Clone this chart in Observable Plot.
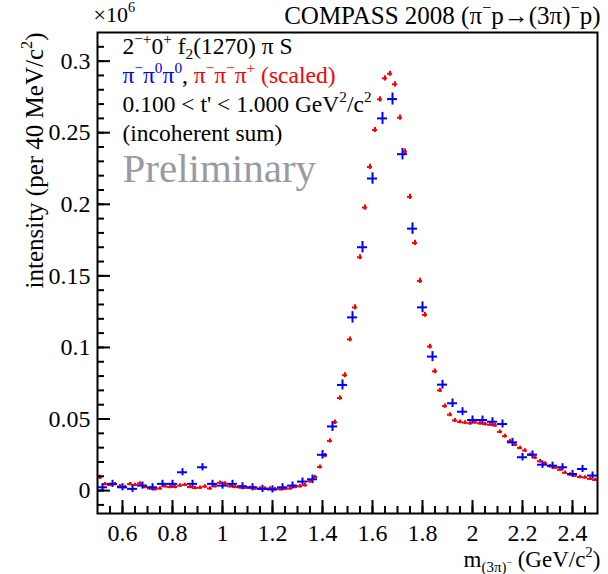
<!DOCTYPE html>
<html>
<head>
<meta charset="utf-8">
<script src="https://cdn.jsdelivr.net/npm/d3@7"></script>
<script src="https://cdn.jsdelivr.net/npm/@observablehq/plot@0.6"></script>
<style>
  html, body { margin: 0; padding: 0; background: #fff; }
  #chart { width: 608px; height: 574px; }
  #chart text { white-space: pre; }
</style>
</head>
<body>
<div id="chart"></div>
<script>
// π−π0π0 channel, 40 MeV bins (intensity in units of 10^6)
const blueMass = [0.52, 0.56, 0.60, 0.64, 0.68, 0.72, 0.76, 0.80, 0.84, 0.88,
  0.92, 0.96, 1.00, 1.04, 1.08, 1.12, 1.16, 1.20, 1.24, 1.28,
  1.32, 1.36, 1.40, 1.44, 1.48, 1.52, 1.56, 1.60, 1.64, 1.68,
  1.72, 1.76, 1.80, 1.84, 1.88, 1.92, 1.96, 2.00, 2.04, 2.08,
  2.12, 2.16, 2.20, 2.24, 2.28, 2.32, 2.36, 2.40, 2.44, 2.48];
const blueIntensity = [0.0023, 0.0047, 0.0023, 0.0012, 0.0035, 0.0023, 0.0047, 0.0047, 0.0128, 0.0047,
  0.0163, 0.0047, 0.0035, 0.0047, 0.0030, 0.0023, 0.0012, 0.0008, 0.0023, 0.0035,
  0.0063, 0.0079, 0.0250, 0.0448, 0.0738, 0.1210, 0.1700, 0.2180, 0.2600, 0.2735,
  0.2350, 0.1830, 0.1280, 0.0936, 0.0740, 0.0610, 0.0551, 0.0493, 0.0493, 0.0481,
  0.0465, 0.0337, 0.0233, 0.0251, 0.0181, 0.0174, 0.0163, 0.0116, 0.0151, 0.0105];
const blueError = [0.0025, 0.0025, 0.0025, 0.0025, 0.0025, 0.0025, 0.0025, 0.0025, 0.0025, 0.0025,
  0.0025, 0.0025, 0.0025, 0.0025, 0.0025, 0.0025, 0.0025, 0.0025, 0.0025, 0.0025,
  0.0025, 0.0030, 0.0030, 0.0035, 0.0035, 0.0040, 0.0040, 0.0040, 0.0042, 0.0042,
  0.0040, 0.0040, 0.0038, 0.0035, 0.0030, 0.0030, 0.0028, 0.0028, 0.0028, 0.0028,
  0.0028, 0.0028, 0.0026, 0.0026, 0.0026, 0.0025, 0.0025, 0.0025, 0.0025, 0.0025];

// π−π−π+ channel (scaled), 20 MeV bins
const redMass = [0.51, 0.53, 0.55, 0.57, 0.59, 0.61, 0.63, 0.65, 0.67, 0.69,
  0.71, 0.73, 0.75, 0.77, 0.79, 0.81, 0.83, 0.85, 0.87, 0.89,
  0.91, 0.93, 0.95, 0.97, 0.99, 1.01, 1.03, 1.05, 1.07, 1.09,
  1.11, 1.13, 1.15, 1.17, 1.19, 1.21, 1.23, 1.25, 1.27, 1.29,
  1.31, 1.33, 1.35, 1.37, 1.39, 1.41, 1.43, 1.45, 1.47, 1.49,
  1.51, 1.53, 1.55, 1.57, 1.59, 1.61, 1.63, 1.65, 1.67, 1.69,
  1.71, 1.73, 1.75, 1.77, 1.79, 1.81, 1.83, 1.85, 1.87, 1.89,
  1.91, 1.93, 1.95, 1.97, 1.99, 2.01, 2.03, 2.05, 2.07, 2.09,
  2.11, 2.13, 2.15, 2.17, 2.19, 2.21, 2.23, 2.25, 2.27, 2.29,
  2.31, 2.33, 2.35, 2.37, 2.39, 2.41, 2.43, 2.45, 2.47, 2.49];
const redIntensity = [0.0093, 0.0045, 0.0040, 0.0045, 0.0030, 0.0025, 0.0045, 0.0040, 0.0050, 0.0025,
  0.0015, 0.0010, 0.0015, 0.0030, 0.0025, 0.0025, 0.0035, 0.0040, 0.0025, 0.0018,
  0.0020, 0.0028, 0.0015, 0.0030, 0.0055, 0.0050, 0.0030, 0.0025, 0.0022, 0.0020,
  0.0018, 0.0015, 0.0015, 0.0015, 0.0015, 0.0010, 0.0010, 0.0012, 0.0015, 0.0025,
  0.0030, 0.0037, 0.0065, 0.0095, 0.0165, 0.0244, 0.0347, 0.0477, 0.0647, 0.0806,
  0.1056, 0.1280, 0.1630, 0.1977, 0.2261, 0.2519, 0.2733, 0.2880, 0.2912, 0.2838,
  0.2605, 0.2368, 0.2052, 0.1730, 0.1465, 0.1228, 0.1006, 0.0833, 0.0700, 0.0590,
  0.0530, 0.0490, 0.0480, 0.0475, 0.0470, 0.0477, 0.0470, 0.0465, 0.0460, 0.0455,
  0.0410, 0.0380, 0.0345, 0.0320, 0.0298, 0.0280, 0.0250, 0.0230, 0.0205, 0.0190,
  0.0170, 0.0160, 0.0145, 0.0125, 0.0112, 0.0105, 0.0095, 0.0092, 0.0082, 0.0075];
const redError = [0.0015, 0.0012, 0.0012, 0.0012, 0.0012, 0.0012, 0.0012, 0.0012, 0.0012, 0.0012,
  0.0012, 0.0012, 0.0012, 0.0012, 0.0012, 0.0012, 0.0012, 0.0012, 0.0012, 0.0012,
  0.0012, 0.0012, 0.0012, 0.0012, 0.0012, 0.0012, 0.0012, 0.0012, 0.0012, 0.0012,
  0.0012, 0.0012, 0.0012, 0.0012, 0.0012, 0.0012, 0.0012, 0.0012, 0.0012, 0.0012,
  0.0012, 0.0012, 0.0013, 0.0013, 0.0014, 0.0015, 0.0015, 0.0016, 0.0016, 0.0017,
  0.0017, 0.0018, 0.0018, 0.0018, 0.0018, 0.0018, 0.0018, 0.0018, 0.0018, 0.0018,
  0.0018, 0.0018, 0.0018, 0.0018, 0.0018, 0.0017, 0.0017, 0.0016, 0.0015, 0.0015,
  0.0014, 0.0014, 0.0013, 0.0013, 0.0013, 0.0013, 0.0013, 0.0013, 0.0013, 0.0013,
  0.0013, 0.0013, 0.0013, 0.0012, 0.0012, 0.0012, 0.0012, 0.0012, 0.0012, 0.0012,
  0.0012, 0.0012, 0.0012, 0.0012, 0.0012, 0.0012, 0.0012, 0.0012, 0.0012, 0.0012];

const blueBinWidth = 0.04;
const redBinWidth = 0.02;

// axis ticks and labels
const xTickValues = [0.6, 0.8, 1, 1.2, 1.4, 1.6, 1.8, 2, 2.2, 2.4];
const yTickValues = [0, 0.05, 0.1, 0.15, 0.2, 0.25, 0.3];
const xMinorTicks = d3.range(0.55, 2.5, 0.05).map(v => +v.toFixed(2));
const yMinorTicks = d3.range(-0.01, 0.315, 0.01).map(v => +v.toFixed(2));

const blueColor = "#0000ff";
const redColor = "#ff0000";
const serif = "Liberation Serif";

const W = 608, H = 574;
const margin = {top: 32, right: 11, bottom: 61, left: 97};
const xDomain = [0.5, 2.5];
const yDomain = [-0.016, 0.32];
const frameW = W - margin.left - margin.right;
const frameH = H - margin.top - margin.bottom;
// tick lengths in pixels, converted to data units along the perpendicular axis
const majorTick = 13, minorTick = 7;
const yPerPx = (yDomain[1] - yDomain[0]) / frameH;
const xPerPx = (xDomain[1] - xDomain[0]) / frameW;

const xTicks = [
  ...xMinorTicks.map(v => ({v, len: minorTick})),
  ...xTickValues.map(v => ({v, len: majorTick}))
];
const yTicks = [
  ...yMinorTicks.map(v => ({v, len: minorTick})),
  ...yTickValues.map(v => ({v, len: majorTick}))
];

const blue = blueMass.map((m, i) => ({m, v: blueIntensity[i], e: blueError[i]}));
const red = redMass.map((m, i) => ({m, v: redIntensity[i], e: redError[i]}));

// Tiny ROOT-style markup: ^{..} superscript, _{..} subscript
function parseTeX(src, scale = 1, shift = 0, out = []) {
  let i = 0, buf = "";
  const flush = () => { if (buf) { out.push({text: buf, scale, shift}); buf = ""; } };
  while (i < src.length) {
    const c = src[i];
    if ((c === "^" || c === "_") && src[i + 1] === "{") {
      flush();
      let depth = 1, j = i + 2;
      while (j < src.length && depth) {
        if (src[j] === "{") depth++;
        else if (src[j] === "}") depth--;
        j++;
      }
      parseTeX(src.slice(i + 2, j - 1), scale * 0.65, shift + (c === "^" ? -0.42 : 0.25) * scale, out);
      i = j;
    } else {
      buf += c;
      i++;
    }
  }
  flush();
  return out;
}

function note(segments, options) {
  const runs = segments.flatMap(([tex, color]) => parseTeX(tex).map(r => ({...r, color})));
  const plain = runs.map(r => r.text).join("");
  return {runs, plain, options};
}

const notes = [
  note([["×10^{6}"]], {frameAnchor: "top-left", dx: -4, dy: -11, fontSize: 22}),
  note([["COMPASS 2008 (π^{−}p→(3π)^{−}p)"]], {frameAnchor: "top-right", textAnchor: "end", dx: 3, dy: -9, fontSize: 25}),
  note([["2^{−+}0^{+} f_{2}(1270) π S"]], {frameAnchor: "top-left", dx: 25, dy: 21, fontSize: 23.5}),
  note([["π^{−}π^{0}π^{0}", blueColor], [", "], ["π^{−}π^{−}π^{+} (scaled)", redColor]], {frameAnchor: "top-left", dx: 25, dy: 50, fontSize: 23.5}),
  note([["0.100 < t' < 1.000 GeV^{2}/c^{2}"]], {frameAnchor: "top-left", dx: 25, dy: 79, fontSize: 23.5}),
  note([["(incoherent sum)"]], {frameAnchor: "top-left", dx: 25, dy: 108, fontSize: 23.5}),
  note([["Preliminary"]], {frameAnchor: "top-left", dx: 25, dy: 149, fontSize: 41, fill: "#9a9aa2"}),
  note([["intensity (per 40 MeV/c^{2})"]], {frameAnchor: "top-left", rotate: -90, textAnchor: "end", dx: -55, dy: 0, fontSize: 25}),
  note([["m_{(3π)^{−}} (GeV/c^{2})"]], {frameAnchor: "bottom-right", textAnchor: "end", dx: 3, dy: 53, fontSize: 23})
];

const chart = Plot.plot({
  width: W,
  height: H,
  marginLeft: margin.left,
  marginRight: margin.right,
  marginTop: margin.top,
  marginBottom: margin.bottom,
  x: {domain: xDomain},
  y: {domain: yDomain},
  style: {fontFamily: serif, background: "#fff", color: "#000", overflow: "visible"},
  marks: [
    // tick labels
    Plot.axisX(xTickValues, {anchor: "bottom", tickSize: 0, tickPadding: 10, fontSize: 24, fontFamily: serif, label: null, tickFormat: d => String(d)}),
    Plot.axisY(yTickValues, {anchor: "left", tickSize: 0, tickPadding: 7, fontSize: 24, fontFamily: serif, label: null, tickFormat: d => String(d)}),
    // π−π−π+ (scaled)
    Plot.ruleY(red, {y: "v", x1: d => d.m - redBinWidth / 2, x2: d => d.m + redBinWidth / 2, stroke: redColor, strokeWidth: 2}),
    Plot.ruleX(red, {x: "m", y1: d => d.v - d.e, y2: d => d.v + d.e, stroke: redColor, strokeWidth: 2}),
    // π−π0π0
    Plot.ruleY(blue, {y: "v", x1: d => d.m - blueBinWidth / 2, x2: d => d.m + blueBinWidth / 2, stroke: blueColor, strokeWidth: 2}),
    Plot.ruleX(blue, {x: "m", y1: d => d.v - d.e, y2: d => d.v + d.e, stroke: blueColor, strokeWidth: 2}),
    Plot.frame({stroke: "#000", strokeWidth: 2}),
    // inward ticks on the bottom and left edges
    Plot.ruleX(xTicks, {x: "v", y1: () => yDomain[0], y2: d => yDomain[0] + d.len * yPerPx, stroke: "#000", strokeWidth: 2}),
    Plot.ruleY(yTicks, {y: "v", x1: () => xDomain[0], x2: d => xDomain[0] + d.len * xPerPx, stroke: "#000", strokeWidth: 2}),
    ...notes.map(n => Plot.text([n.plain], {
      text: d => d,
      lineAnchor: "bottom",
      fontFamily: serif,
      fill: "#000",
      ...n.options
    }))
  ]
});

// rebuild annotations with super/subscripts and coloured runs
for (const n of notes) {
  const base = n.options.fontSize;
  for (const el of chart.querySelectorAll("text")) {
    if (el.textContent !== n.plain) continue;
    el.textContent = "";
    let prev = 0;
    for (const r of n.runs) {
      const t = document.createElementNS("http://www.w3.org/2000/svg", "tspan");
      t.textContent = r.text;
      if (r.scale !== 1) t.setAttribute("font-size", (base * r.scale).toFixed(2));
      if (r.shift !== prev) t.setAttribute("dy", ((r.shift - prev) * base).toFixed(2));
      if (r.color) t.setAttribute("fill", r.color);
      prev = r.shift;
      el.appendChild(t);
    }
  }
}

document.getElementById("chart").appendChild(chart);
</script>
</body>
</html>
